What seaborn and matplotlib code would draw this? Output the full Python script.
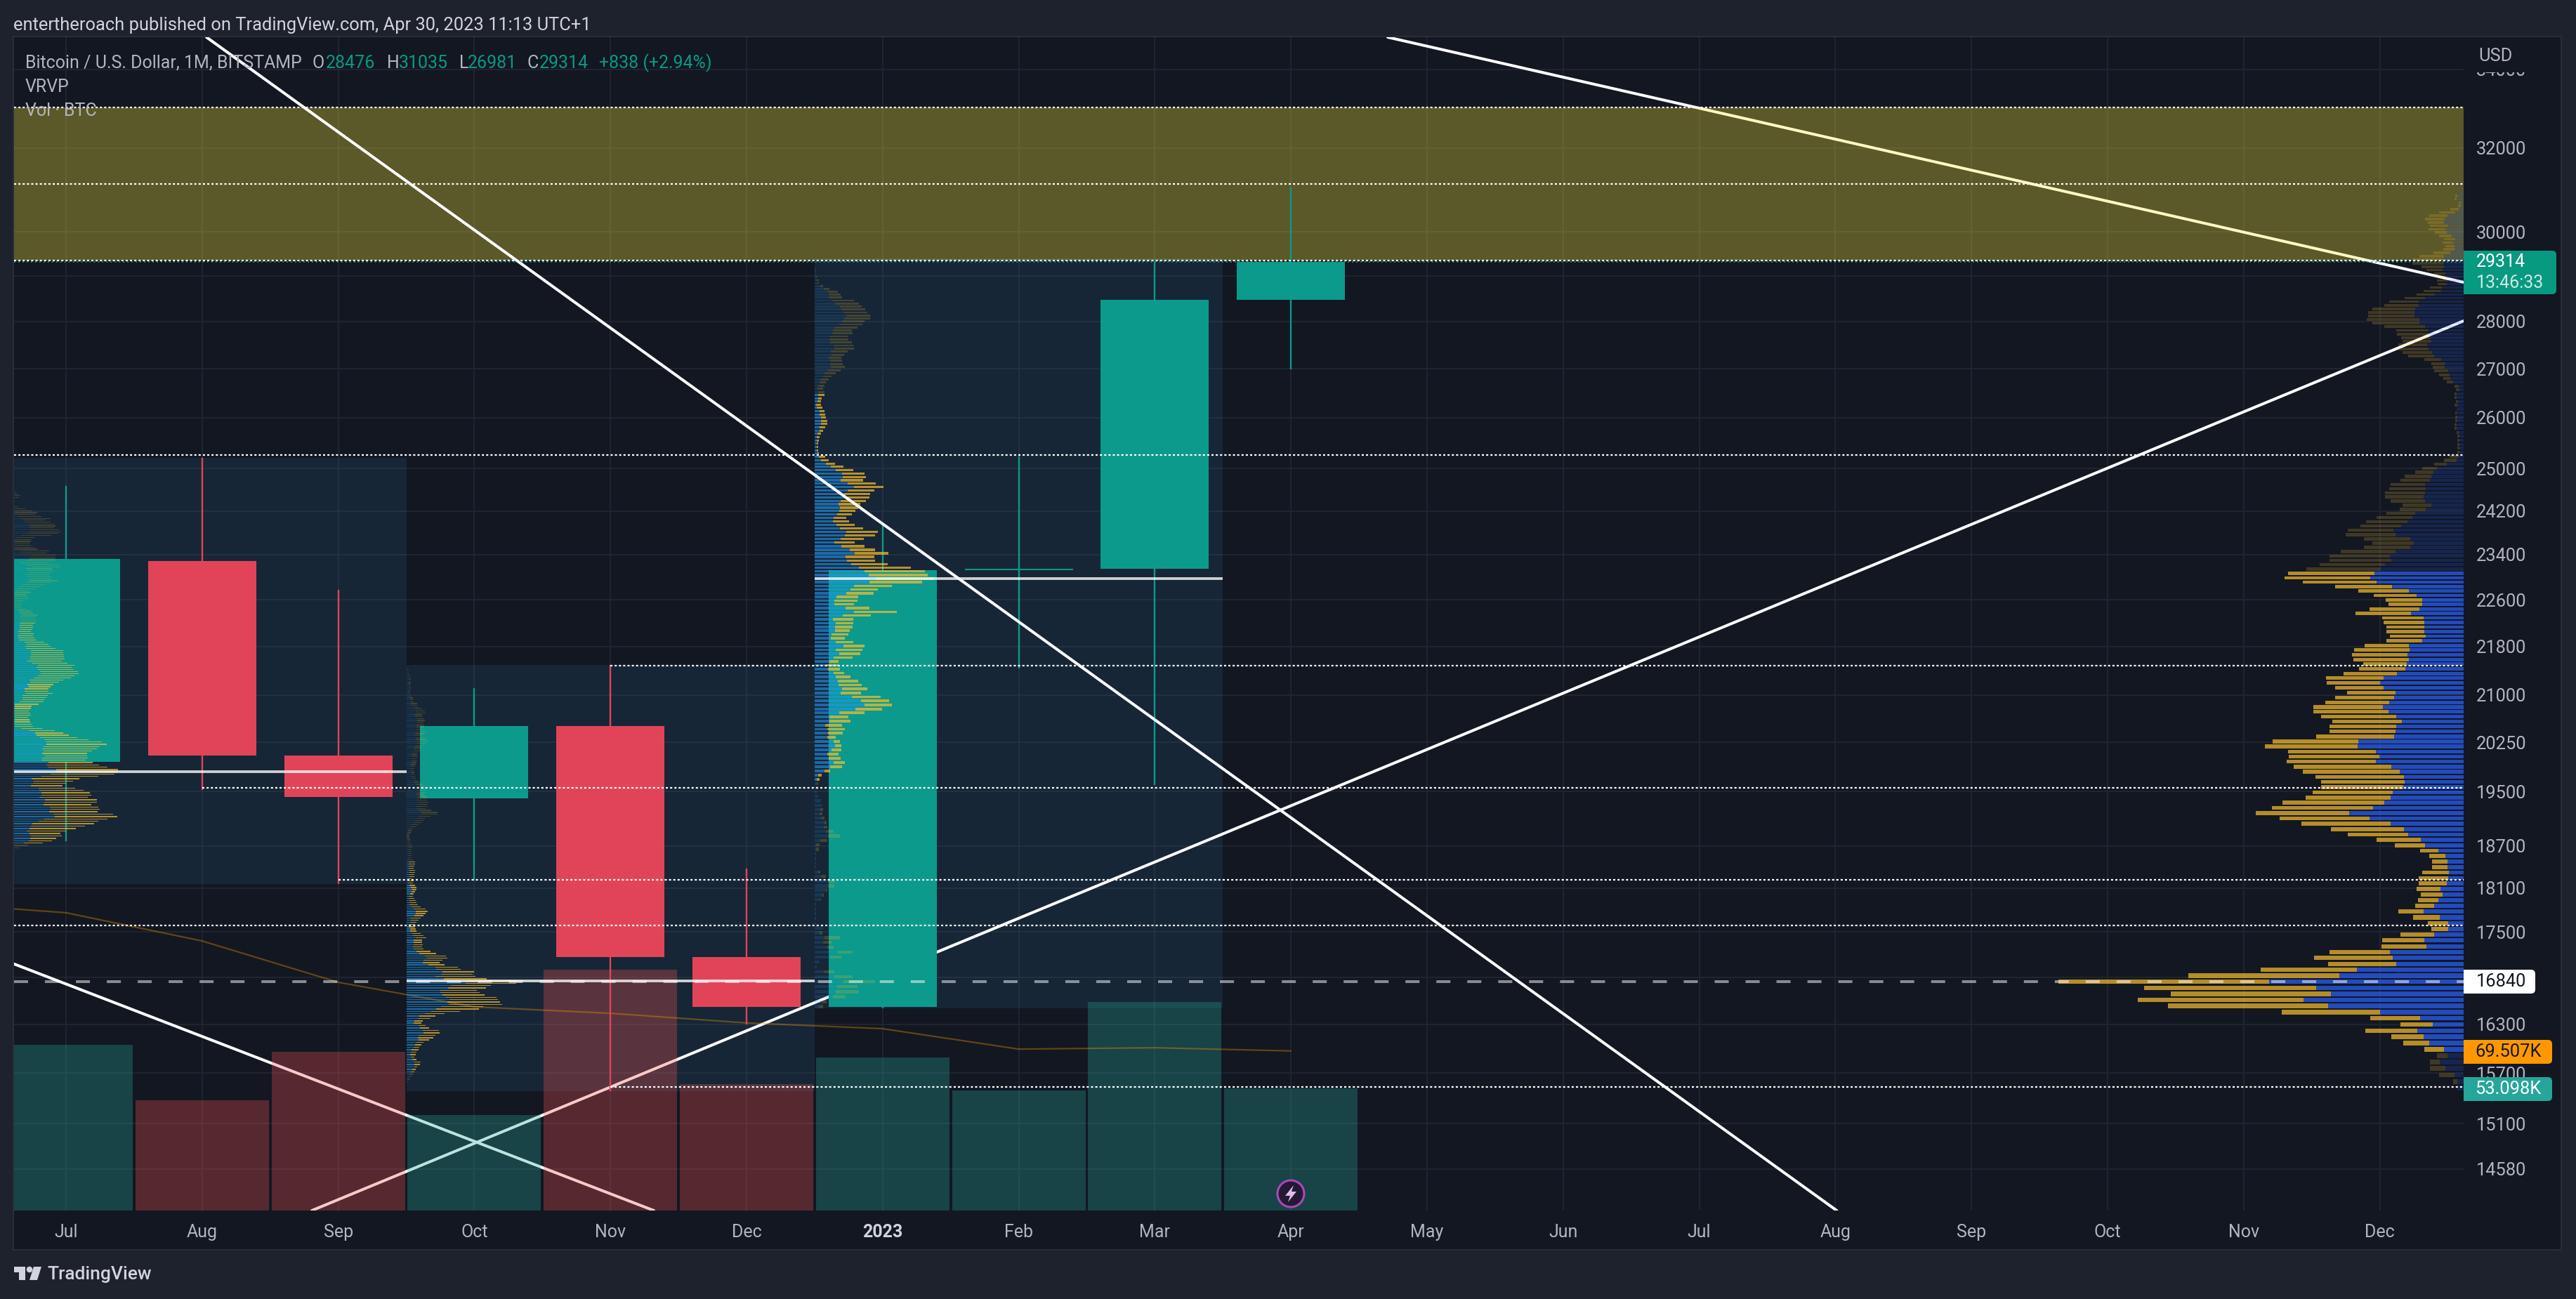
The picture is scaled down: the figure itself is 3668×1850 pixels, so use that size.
'''
BTC/USD monthly chart with volume and volume profiles
'''

# import modules
import numpy as np
import pandas as pd
import seaborn as sns
import matplotlib.pyplot as plt
from matplotlib.colors import to_rgba
from matplotlib.patches import Rectangle, FancyBboxPatch, Circle, Polygon
from matplotlib.ticker import NullLocator
from matplotlib.transforms import IdentityTransform

#==================================
# data
#==================================

# months, index 0 is Jul 2022
month_labels = ['Jul', 'Aug', 'Sep', 'Oct', 'Nov', 'Dec', '2023', 'Feb', 'Mar', 'Apr', 'May',
                'Jun', 'Jul', 'Aug', 'Sep', 'Oct', 'Nov', 'Dec']
candle_idx = [0, 1, 2, 3, 4, 5, 6, 7, 8, 9]
opens = [19948, 23284, 20048, 19396, 20506, 17165, 16519, 23120, 23148, 28476]
highs = [24670, 25209, 22773, 21113, 21494, 18375, 23935, 25235, 29330, 31035]
lows = [18768, 19522, 18157, 18207, 15481, 16297, 16500, 21436, 19595, 26981]
closes = [23322, 20048, 19416, 20506, 17165, 16519, 23120, 23150, 28476, 29314]

# volume in thousands of BTC and its moving average
volumes = [72.2, 48.0, 69.1, 41.6, 104.9, 55.0, 66.7, 52.3, 90.8, 53.098]
ma_idx = [-1, 0, 1, 2, 3, 4, 5, 6, 7, 8, 9]
ma_values = [134.0, 129.7, 117.4, 99.4, 88.7, 85.9, 81.7, 79.2, 70.3, 70.9, 69.507]

# price scale, 29000 and 16900 have a grid line but their labels sit behind the price boxes
y_ticks = [34000, 32000, 30000, 29000, 28000, 27000, 26000, 25000, 24200, 23400, 22600, 21800,
           21000, 20250, 19500, 18700, 18100, 17500, 16900, 16300, 15700, 15100, 14580]
y_tick_labels = ['34000', '32000', '30000', '', '28000', '27000', '26000', '25000', '24200', '23400', '22600', '21800',
                 '21000', '20250', '19500', '18700', '18100', '17500', '', '16300', '15700', '15100', '14580']

# drawn lines, bar index and price at both ends
trend_a_x, trend_a_y = [1.032, 13.01], [34849, 14122]
trend_b_x, trend_b_y = [9.711, 17.616], [34849, 28857]
trend_c_x, trend_c_y = [1.806, 17.616], [14122, 28012]
trend_d_x, trend_d_y = [-0.382, 4.319], [17074, 14122]

# horizontal levels, price and first bar
level_prices = [33024, 31132, 29350, 25260, 21482, 19554, 18218, 17588, 15532]
level_starts = [-0.382, -0.382, -0.382, -0.382, 4.0, 1.0, 2.0, -0.382, 4.0]
zone_low, zone_high = 29350, 33024
last_price = 29314
dash_price = 16840

# fixed range boxes: first bar, last bar, low price, high price, point of control
box_left = [-0.5, 2.5, 5.5]
box_right = [2.5, 5.5, 8.5]
box_low = [18157, 15481, 16500]
box_high = [25209, 21494, 29389]
poc_prices = [19800, 16850, 22971]

# visible range profile, bottom row first, 200 rows
vrvp_low, vrvp_step = 15481, 77.77
vrvp_bright = (6, 97)
vrvp_up = [9, 9, 13, 26, 34, 23, 28, 49, 57, 66, 44, 62, 119, 193, 228, 189, 210, 277, 177, 152, 96, 101, 105, 53, 56, 42, 22, 22, 34,
           57, 42, 36, 30, 33, 24, 22, 21, 23, 23, 26, 36, 55, 61, 79, 85, 104, 134, 163, 129, 113, 104, 101, 86, 84, 85, 91, 103, 125, 120,
           125, 151, 150, 99, 97, 96, 88, 96, 107, 115, 106, 99, 97, 114, 119, 114, 95, 83, 81, 78, 80, 77, 78, 59, 54, 56, 56, 56, 57, 75,
           63, 59, 59, 67, 78, 102, 124, 133, 127, 119, 112, 103, 105, 97, 76, 71, 76, 97, 100, 89, 80, 73, 69, 54, 46, 55, 57, 55,
           54, 55, 48, 46, 43, 38, 24, 10, 7, 6, 6, 6, 6, 6, 7, 10, 10, 9, 9, 10, 10, 9, 8, 10, 10, 6, 7, 15, 19, 20, 22, 27, 27, 32, 42, 45,
           50, 52, 46, 48, 50, 50, 55, 63, 63, 70, 70, 69, 64, 64, 55, 41, 32, 31, 24, 23, 26, 26, 30, 28, 29, 28, 28, 19, 13, 13, 15, 12, 17,
           24, 26, 22, 28, 27, 23, 12, 7, 4, 4, 10, 9, 4, 3]
vrvp_down = [0, 6, 22, 22, 14, 15, 28, 37, 46, 74, 46, 71, 140, 228, 236, 228, 245, 300, 215, 137, 97, 112, 86, 64, 60, 48, 24, 29, 38,
             36, 27, 29, 31, 34, 40, 42, 38, 22, 22, 23, 26, 43, 63, 86, 104, 127, 128, 133, 144, 145, 121, 114, 117, 119, 126, 138, 139, 127, 129,
             125, 132, 122, 111, 94, 95, 99, 107, 107, 99, 91, 84, 69, 69, 76, 82, 76, 66, 62, 79, 79, 79, 63, 51, 51, 54, 54, 58, 59, 79,
             71, 48, 52, 61, 72, 81, 105, 122, 123, 105, 93, 88, 86, 78, 66, 59, 66, 71, 65, 58, 59, 51, 41, 37, 41, 49, 55, 57,
             52, 49, 42, 38, 26, 21, 18, 18, 13, 3, 3, 3, 3, 3, 3, 3, 3, 3, 3, 2, 0, 4, 3, 3, 3, 5, 6, 9, 10, 15, 20, 17, 19, 24, 37, 42,
             43, 41, 41, 41, 45, 46, 58, 67, 75, 66, 66, 61, 49, 42, 29, 26, 25, 17, 13, 15, 8, 16, 23, 32, 44, 44, 35, 24, 16, 13, 15, 16, 18,
             17, 24, 26, 23, 28, 26, 23, 12, 4, 3, 3, 3, 0, 0]

# fixed range profile Jul-Sep
box1_step = 35.26
box1_bright = (16, 114)
box1_up = [0] * 14 + [24, 24, 37, 44, 46, 47, 45, 41, 45, 47, 49, 58, 66, 81, 79, 73, 75, 74, 65, 66, 67, 59, 62, 62, 59, 58, 47, 50, 51, 48,
           62, 75, 83, 83, 71, 69, 72, 62, 63, 67, 63, 65, 63, 65, 69, 69, 66, 60, 55, 53, 44, 34, 24, 24, 24, 24, 24, 24, 24, 24, 24, 24,
           24, 31, 35, 35, 35, 40, 38, 38, 44, 42, 46, 45, 51, 57, 61, 60, 57, 55, 57, 49, 42, 46, 46, 47, 47, 47, 40, 39, 41, 38, 30, 29,
           28, 30, 29, 31, 31, 31, 31, 33, 32, 32, 34, 30, 29, 24, 24, 24, 24, 24, 24, 24, 24, 24, 24, 26, 29, 34, 41, 44, 44, 42, 39, 42,
           43, 40, 48, 40, 31, 39, 44, 46, 49, 33, 33, 24, 24, 24, 24, 24, 24, 27, 34, 41, 45, 46, 45, 46, 43, 37, 37, 33, 29, 24, 24, 24,
           24, 24, 0, 0, 0, 0, 24, 24, 24, 24] + [0] * 17
box1_down = [0] * 14 + [6, 19, 27, 33, 37, 44, 44, 56, 66, 77, 88, 85, 90, 89, 85, 69, 70, 69, 68, 75, 74, 69, 71, 69, 63, 52, 45, 47, 56, 68,
             81, 91, 88, 88, 85, 75, 63, 63, 65, 60, 64, 69, 78, 79, 86, 79, 63, 53, 46, 40, 37, 29, 26, 24, 22, 21, 19, 23, 22, 20, 23, 24,
             34, 34, 31, 34, 36, 38, 34, 34, 31, 37, 41, 48, 53, 52, 54, 54, 50, 50, 52, 50, 49, 49, 48, 47, 46, 46, 42, 36, 31, 28, 25, 23,
             22, 21, 18, 18, 19, 19, 22, 23, 22, 22, 23, 20, 18, 17, 10, 10, 10, 15, 19, 19, 17, 23, 21, 26, 32, 32, 35, 41, 33, 33, 34, 35,
             36, 37, 40, 48, 42, 43, 38, 36, 34, 36, 40, 32, 27, 23, 21, 23, 24, 26, 42, 45, 45, 41, 35, 36, 38, 38, 31, 42, 33, 30, 32, 25,
             15, 4, 1, 0, 0, 0, 6, 8, 4, 2] + [0] * 17

# fixed range profile Oct-Dec
box2_low, box2_step = 15459, 29.95
box2_bright = (8, 100)
box2_up = [0, 0, 0, 0, 0, 2, 3, 4, 6, 8, 11, 11, 11, 8, 6, 5, 6, 7, 10, 12, 14, 17, 16, 17, 24, 23, 19, 17, 10, 11, 16, 18, 26, 35, 42, 50, 60, 58, 61, 56,
           51, 48, 48, 59, 63, 84, 85, 53, 41, 49, 51, 42, 41, 31, 23, 24, 29, 26, 18, 14, 10, 9, 10, 10, 10, 13, 9, 8, 5, 5, 3, 5, 6, 6, 6, 11, 13, 13, 10, 7,
           4, 4, 4, 3, 3, 5, 7, 8, 6, 4, 3, 2, 2, 4, 4, 4, 4, 3, 3, 3, 3, 2, 2, 2, 2, 2, 2, 2, 2, 1, 1, 1, 0, 0, 2, 2, 3, 5, 6, 10,
           12, 14, 17, 21, 21, 17, 12, 13, 15, 16, 14, 14, 15, 13, 15, 15, 16, 15, 13, 11, 10, 8, 7, 7, 7, 6, 6, 5, 6, 7, 8, 8, 8, 8, 8, 10, 10, 11, 13, 14,
           15, 13, 12, 10, 13, 12, 13, 14, 14, 14, 15, 15, 14, 12, 11, 13, 13, 12, 9, 7, 6, 5, 5, 4, 4, 4, 3, 3, 4, 4, 3, 3, 3, 3, 3, 3, 2, 0, 1, 0]
box2_down = [0, 0, 0, 0, 2, 2, 3, 5, 5, 5, 4, 8, 9, 6, 5, 8, 8, 10, 8, 9, 10, 15, 22, 24, 23, 23, 13, 10, 11, 12, 18, 23, 28, 41, 61, 59, 76, 75, 69, 72,
             60, 56, 52, 54, 57, 72, 71, 61, 57, 45, 45, 35, 32, 23, 24, 27, 29, 30, 24, 20, 14, 13, 13, 12, 12, 15, 15, 12, 9, 8, 9, 7, 8, 11, 14, 13, 14, 17, 17, 13,
             12, 10, 9, 8, 6, 5, 5, 6, 8, 8, 6, 8, 5, 7, 7, 8, 8, 7, 8, 9, 9, 7, 5, 5, 5, 5, 5, 6, 6, 5, 4, 4, 4, 4, 4, 5, 6, 9, 11, 11,
             13, 12, 17, 22, 23, 18, 15, 16, 15, 15, 15, 15, 13, 11, 12, 12, 14, 12, 10, 7, 5, 5, 5, 4, 4, 4, 5, 6, 7, 7, 7, 7, 8, 7, 8, 10, 10, 10, 11, 15,
             16, 14, 12, 11, 12, 15, 10, 11, 11, 11, 9, 11, 11, 11, 11, 14, 13, 10, 9, 8, 9, 5, 5, 5, 3, 1, 1, 3, 2, 2, 2, 3, 3, 3, 2, 2, 2, 1, 2, 1]

# fixed range profile Jan-Mar
box3_low, box3_step = 16489, 64.5
box3_bright = (49, 154)
box3_up = [6, 11, 26, 30, 32, 41, 28, 13, 3, 7, 22, 33, 18, 12, 14, 7, 12, 2, 2, 2, 2, 2, 8, 11, 16, 19, 19, 10, 5, 2, 2, 2, 2, 2, 2, 8, 19, 16, 13, 14,
           9, 7, 8, 11, 9, 5, 3, 3, 3, 3, 5, 14, 22, 27, 20, 18, 24, 29, 27, 18, 19, 18, 15, 21, 21, 35, 58, 71, 66, 53, 37, 39, 34, 33, 30, 27, 19,
           17, 21, 27, 35, 30, 41, 30, 23, 24, 29, 29, 30, 26, 40, 56, 44, 28, 28, 31, 45, 51, 56, 78, 87, 77, 71, 63, 52, 46, 44, 57, 50, 38, 28, 37, 43, 45,
           36, 31, 26, 27, 32, 35, 36, 34, 37, 42, 42, 47, 56, 47, 37, 40, 39, 30, 23, 16, 9, 6, 4, 3, 3, 3, 3, 3, 4, 7, 7, 9, 9, 9, 7, 7, 3, 2, 4, 5, 5, 5,
           4, 5, 7, 9, 12, 14, 19, 23, 22, 22, 20, 24, 23, 28, 27, 22, 21, 21, 25, 26, 29, 35, 39, 42, 45, 41, 38, 36, 29, 25, 20, 21, 19, 13, 8, 3, 2, 2, 2, 2, 2,
           0, 0, 0]
box3_down = [6, 6, 18, 33, 29, 45, 26, 15, 0, 0, 16, 21, 9, 12, 22, 4, 0, 0, 0, 0, 0, 0, 1, 2, 2, 9, 10, 6, 3, 0, 0, 0, 0, 4, 5, 10, 17, 11, 5, 3,
             5, 4, 4, 0, 0, 0, 0, 2, 2, 4, 5, 8, 17, 16, 17, 16, 14, 9, 9, 12, 21, 25, 24, 30, 27, 36, 38, 39, 40, 41, 29, 36, 33, 29, 21, 15, 17,
             17, 13, 27, 30, 38, 30, 25, 20, 24, 21, 25, 25, 29, 40, 61, 34, 28, 33, 31, 39, 39, 54, 75, 83, 84, 86, 74, 52, 40, 41, 48, 36, 33, 29, 33, 43, 45,
             33, 26, 23, 18, 21, 23, 26, 31, 36, 36, 37, 38, 42, 40, 32, 33, 32, 25, 18, 13, 11, 9, 2, 2, 2, 2, 3, 4, 5, 5, 8, 9, 9, 7, 8, 7, 8, 7, 5, 5, 9, 9,
             8, 9, 9, 11, 12, 16, 18, 20, 18, 17, 18, 18, 24, 28, 28, 31, 27, 27, 29, 27, 32, 33, 32, 37, 34, 34, 34, 31, 34, 31, 19, 16, 14, 8, 4, 3, 4, 1, 0, 0, 0,
             0, 0, 0]

# size of the reference image
W, H = 3668, 1850
LEFT, TOP, RIGHT, BOTTOM = 20, 53, 3508, 1724
BAR_PX = 193.8
x_min, x_max = -0.382, 17.616
price_min, price_max = 14122, 34849
vol_max = 511.0

# colors
OUTER = '#1e222d'
PANEL = '#121722'
GRID = '#1f2430'
LABEL = '#b2b5be'
GREEN = '#0c9a8c'
RED = '#e14459'
MARKET = '#089981'

#==================================
# figure setup
#==================================

sns.set_theme(style='dark')
plt.rcParams['font.family'] = ['Roboto', 'DejaVu Sans']
plt.rcParams['lines.scale_dashes'] = False

fig = plt.figure(figsize=(W / 100, H / 100), dpi=100, facecolor=OUTER)
rect = [LEFT / W, 1 - BOTTOM / H, (RIGHT - LEFT) / W, (BOTTOM - TOP) / H]


def px(x, y):
    # image pixels to figure fractions
    return x / W, 1 - y / H


def box(x, y, w, h, color, z=6, rounded=False):
    # label box given in image pixels
    if rounded:
        patch = FancyBboxPatch((x, H - y - h), w, h, boxstyle='round,pad=0,rounding_size=6',
                               fc=color, ec='none', transform=IdentityTransform(), zorder=z)
        fig.add_artist(patch)
        patch = Rectangle((x, H - y - h), 20, h, fc=color, ec='none',
                          transform=IdentityTransform(), zorder=z)
        fig.add_artist(patch)
    else:
        fig.add_artist(Rectangle((x, H - y - h), w, h, fc=color, ec='none',
                                 transform=IdentityTransform(), zorder=z))


def label(x, y, s, color=LABEL, size=18, ha='left', **kw):
    fig.text(*px(x, y), s, color=color, fontsize=size, ha=ha, va='center', zorder=8, **kw)


# chart panel behind everything
fig.add_artist(Rectangle((LEFT - 1, H - 1780), 3647 - LEFT + 1, 1780 - TOP + 1, fc=PANEL, ec='#2a2e39',
                         lw=1.5, transform=IdentityTransform(), zorder=-1))

ax = fig.add_axes(rect, facecolor='none', zorder=1)
ax_vol = fig.add_axes(rect, facecolor='none', zorder=2, sharex=ax)
ax_top = fig.add_axes(rect, facecolor='none', zorder=3, sharex=ax, sharey=ax)

#==================================
# base layer: grid, boxes, lines under the volume
#==================================

ax.set_yscale('log')
ax.set_axisbelow(True)
ax.grid(True, color=GRID, linewidth=1.5)

for x0, x1, lo, hi in zip(box_left, box_right, box_low, box_high):
    ax.fill_between([x0, x1], [lo, lo], [hi, hi], color='#3c94c9', alpha=0.12, linewidth=0, zorder=1)

for lx, ly in [(trend_b_x, trend_b_y), (trend_c_x, trend_c_y), (trend_d_x, trend_d_y)]:
    sns.lineplot(x=lx, y=ly, ax=ax, color='white', linewidth=2.9, estimator=None, sort=False, zorder=2)

ax.axhspan(zone_low, zone_high, color='#ffeb3b', alpha=0.31, linewidth=0, zorder=3)

#==================================
# volume layer
#==================================

df_vol = pd.DataFrame({'idx': candle_idx, 'vol': volumes,
                       'side': ['up' if c >= o else 'down' for o, c in zip(opens, closes)]})
sns.barplot(data=df_vol, x='idx', y='vol', hue='side', palette={'up': '#26a69a', 'down': '#ef5350'},
            native_scale=True, dodge=False, width=0.98, saturation=1, alpha=0.31, linewidth=0,
            legend=False, ax=ax_vol)
sns.lineplot(x=ma_idx, y=ma_values, ax=ax_vol, color='#ff9800', alpha=0.35, linewidth=1.6,
             estimator=None, sort=False)
ax_vol.set_ylim(0, vol_max)
ax_vol.axis('off')

#==================================
# top layer: candles, profiles, levels
#==================================

for i, o, h, l, c in zip(candle_idx, opens, highs, lows, closes):
    col = GREEN if c >= o else RED
    ax_top.vlines(i, l, h, color=col, linewidth=1.7, zorder=2)
    ax_top.bar(i, abs(c - o), bottom=min(o, c), width=0.795, color=col, linewidth=0, zorder=2.1)


def draw_rows(low, step, up, down, base, sign, up_color, bright_alpha, dim_alpha, bright, thick):
    # one volume profile, bars grow away from base
    rows = np.arange(len(up))
    centers = low + (rows + 0.5) * step
    up_len = np.array(up) / BAR_PX
    down_len = np.array(down) / BAR_PX
    is_bright = (rows >= bright[0]) & (rows <= bright[1])
    up_cols = [to_rgba(up_color, bright_alpha if b else dim_alpha) for b in is_bright]
    down_cols = [to_rgba('#fbc02d', 0.7 if b else 0.2) for b in is_bright]
    ax_top.barh(centers, sign * up_len, height=step * thick, left=base, color=up_cols, linewidth=0, zorder=3)
    ax_top.barh(centers, sign * down_len, height=step * thick, left=base + sign * up_len, color=down_cols,
                linewidth=0, zorder=3)


draw_rows(vrvp_low, vrvp_step, vrvp_up, vrvp_down, x_max, -1, '#2962ff', 0.7, 0.2, vrvp_bright, 0.74)
draw_rows(box_low[0], box1_step, box1_up, box1_down, box_left[0], 1, '#2196f3', 0.6, 0.17, box1_bright, 0.42)
draw_rows(box2_low, box2_step, box2_up, box2_down, box_left[1], 1, '#2196f3', 0.6, 0.17, box2_bright, 0.45)
draw_rows(box3_low, box3_step, box3_up, box3_down, box_left[2], 1, '#2196f3', 0.6, 0.17, box3_bright, 0.66)

# point of control of each box
for x0, x1, p in zip(box_left, box_right, poc_prices):
    ax_top.hlines(p, x0, x1, color='white', alpha=0.8, linewidth=2.7, zorder=4)

# dotted levels and last price, dashed close
for p, start in zip(level_prices, level_starts):
    ax_top.hlines(p, start, x_max, color='white', linewidth=1.6, linestyles=(0, (2.2, 2.2)), zorder=5)
ax_top.hlines(last_price, x_min, x_max, color=MARKET, linewidth=1.3, linestyles=(0, (1.4, 2.9)), zorder=4.5)
ax_top.hlines(dash_price, x_min, x_max, color='white', alpha=0.5, linewidth=2.9,
              linestyles=(0, (14.4, 17.3)), zorder=5)

sns.lineplot(x=trend_a_x, y=trend_a_y, ax=ax_top, color='white', linewidth=2.9, estimator=None,
             sort=False, zorder=5)
ax_top.axis('off')

#==================================
# axes, ticks
#==================================

ax.set_xlim(x_min, x_max)
ax.set_ylim(price_min, price_max)
ax.set_xticks(range(len(month_labels)), month_labels)
ax.set_yticks(y_ticks, y_tick_labels)
ax.yaxis.set_minor_locator(NullLocator())
ax.yaxis.tick_right()
ax.set_xlabel('')
ax.set_ylabel('')
ax.tick_params(axis='y', length=0, pad=13, labelsize=18.4, labelcolor=LABEL)
ax.tick_params(axis='x', length=0, pad=14, labelsize=18, labelcolor=LABEL)
for t in ax.get_xticklabels():
    if t.get_text() == '2023':
        t.set_fontweight('bold')
        t.set_color('#d1d4dc')
for a in [ax, ax_vol, ax_top]:
    for s in a.spines.values():
        s.set_visible(False)

#==================================
# texts and label boxes
#==================================

label(19, 36, 'entertheroach published on TradingView.com, Apr 30, 2023 11:13 UTC+1', color='#d1d4dc', size=18.4)

label(36, 90, 'Bitcoin / U.S. Dollar, 1M, BITSTAMP')
for x, s, col in [(445, 'O', LABEL), (464, '28476', MARKET), (551, 'H', LABEL), (568, '31035', MARKET),
                  (654, 'L', LABEL), (666, '26981', MARKET), (751, 'C', LABEL), (768, '29314', MARKET),
                  (853, '+838 (+2.94%)', MARKET)]:
    label(x, 90, s, color=col)
label(36, 124, 'VRVP')
label(36, 158, 'Vol · BTC')

# only the foot of the top tick label shows under the currency
box(3510, 55, 135, 48, PANEL, z=5)
label(3553, 80, 'USD', size=18.4, ha='center')

box(3508, 357, 132, 62, MARKET, rounded=True)
label(3526, 373, '29314', color='white', size=18)
label(3526, 403, '13:46:33', color='#cfe9e4', size=18)
box(3508, 1381, 102, 34, 'white', rounded=True)
label(3526, 1398, '16840', color='#131722', size=18.4)
box(3508, 1481, 126, 34, '#ff9800', rounded=True)
label(3524, 1498, '69.507K', color='#131722', size=18.4)
box(3508, 1534, 126, 34, '#26a69a', rounded=True)
label(3524, 1551, '53.098K', color='white', size=18.4)

# lightning mark on the April bar
fig.add_artist(Circle((1838, H - 1700), 19, fc='#241a33', ec='#ab47bc', lw=2.2,
                      transform=IdentityTransform(), zorder=6))
fig.add_artist(Polygon([(1842, H - 1688), (1830, H - 1703), (1837, H - 1703), (1834, H - 1712),
                        (1846, H - 1697), (1839, H - 1697)], fc='#e1bee7', ec='none',
                       transform=IdentityTransform(), zorder=7))

# TradingView logo
logo = '#d1d4dc'
fig.add_artist(Polygon([(20, H - 1804), (36, H - 1804), (36, H - 1823), (27, H - 1823), (27, H - 1812), (20, H - 1812)],
                       fc=logo, ec='none', transform=IdentityTransform(), zorder=7))
fig.add_artist(Circle((42, H - 1808), 4.3, fc=logo, ec='none', transform=IdentityTransform(), zorder=7))
fig.add_artist(Polygon([(48, H - 1804), (59, H - 1804), (53, H - 1823), (42, H - 1823)],
                       fc=logo, ec='none', transform=IdentityTransform(), zorder=7))
label(67, 1815, 'TradingView', color=logo, size=19, fontweight='medium')

plt.savefig('out.png', dpi=100, facecolor=OUTER)
